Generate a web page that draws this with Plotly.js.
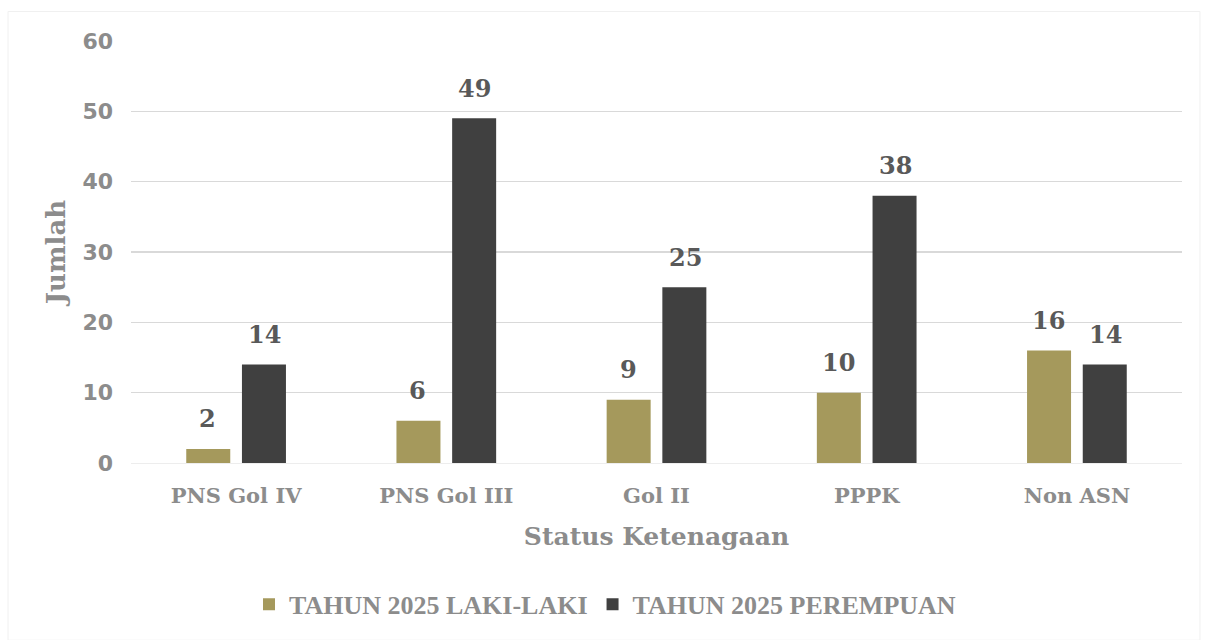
<!DOCTYPE html>
<html>
<head>
<meta charset="utf-8">
<script src="https://cdn.plot.ly/plotly-3.0.1.min.js"></script>
<style>html,body{margin:0;padding:0;background:#fff}#chart{width:1207px;height:640px}</style>
</head>
<body>
<div id="chart"></div>
<script>
const categories = ["PNS Gol IV", "PNS Gol III", "Gol II", "PPPK", "Non ASN"];
const lakiLaki = [2, 6, 9, 10, 16];
const perempuan = [14, 49, 25, 38, 14];
const seriesNames = ["TAHUN 2025 LAKI-LAKI", "TAHUN 2025 PEREMPUAN"];
const yTicks = [0, 10, 20, 30, 40, 50, 60];

const serif = "DejaVu Serif, Liberation Serif, serif";
const labelFont = {family: serif, size: 24, color: "#595959", weight: "bold"};

const traces = [
  {type: "bar", name: seriesNames[0], x: categories, y: lakiLaki,
   marker: {color: "#A5995C"}, hoverinfo: "none"},
  {type: "bar", name: seriesNames[1], x: categories, y: perempuan,
   marker: {color: "#404040"}, hoverinfo: "none"}
];

const annotations = [];
[[lakiLaki, -28.5], [perempuan, 28.5]].forEach(([vals, dx]) => {
  categories.forEach((c, i) => {
    annotations.push({xref: "x", yref: "y", x: c, y: vals[i], text: String(vals[i]),
      showarrow: false, xshift: dx, yshift: 30, yanchor: "middle", font: labelFont});
  });
});

const layout = {
  width: 1207, height: 640,
  margin: {l: 131, r: 25, t: 41, b: 175},
  paper_bgcolor: "#fff", plot_bgcolor: "#fff",
  barmode: "group", bargap: 0.47, bargroupgap: 0.21,
  showlegend: true,
  legend: {orientation: "h", x: 0.451, xanchor: "center", y: -0.335, yanchor: "middle",
    font: {family: "Liberation Serif, serif", size: 26, color: "#8C8C8C", weight: "bold"},
    traceorder: "normal", itemwidth: 20},
  annotations: annotations,
  xaxis: {
    title: {text: "Status Ketenagaan", standoff: 20,
      font: {family: serif, size: 25, color: "#8C8C8C", weight: "bold"}},
    tickfont: {family: serif, size: 21, color: "#8C8C8C", weight: "bold"},
    showgrid: false, showline: true, linecolor: "#EDEDED", linewidth: 1,
    ticks: "", ticklabelstandoff: 14
  },
  yaxis: {
    title: {text: "Jumlah", standoff: 9,
      font: {family: serif, size: 26, color: "#8C8C8C", weight: "bold"}},
    range: [0, 60], tickvals: yTicks, ticktext: yTicks.map(String),
    tickfont: {family: "DejaVu Sans, sans-serif", size: 22, color: "#8C8C8C", weight: "bold"},
    showgrid: true, gridcolor: "#D9D9D9", gridwidth: 1.5,
    zeroline: false, showline: false, ticks: "", ticklabelstandoff: 17
  },
  shapes: [{type: "rect", xref: "paper", yref: "paper", x0: -0.117, x1: 1.0171, y0: -0.42, y1: 1.07,
    line: {color: "#F0F0F0", width: 1}, fillcolor: "rgba(0,0,0,0)", layer: "below"}]
};

Plotly.newPlot("chart", traces, layout, {displayModeBar: false, staticPlot: true});
</script>
</body>
</html>
